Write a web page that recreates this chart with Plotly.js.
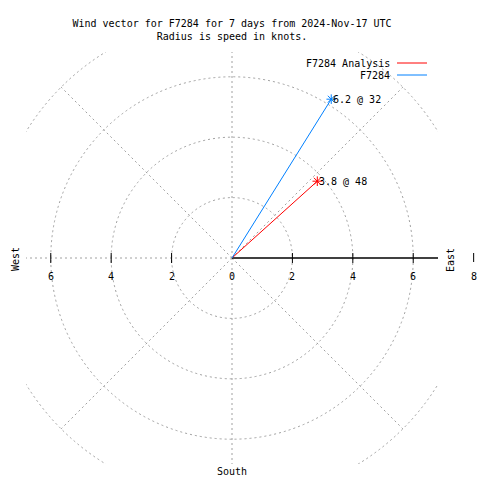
<!DOCTYPE html>
<html><head><meta charset="utf-8">
<script src="https://cdn.plot.ly/plotly-3.0.1.min.js"></script>
<style>html,body{margin:0;padding:0;background:#fff}</style>
</head><body><div id="chart" style="width:480px;height:480px"></div>
<script>
// ---- data ----
const seriesNames = ['F7284 Analysis', 'F7284'];
const speeds = [3.8, 6.2];          // knots
const directions = [48, 32];        // degrees clockwise from north
const seriesColors = ['#ff0000', '#0080ff'];
const circleRadii = [2, 4, 6, 8];
const spokeAngles = [0, 45, 135, 180, 225, 270, 315];
const tickVals = [-6, -4, -2, 2, 4, 6];
const tickLabelVals = [-6, -4, -2, 0, 2, 4, 6];
const tickLabelText = ['6', '4', '2', '0', '2', '4', '6'];
const outerTick = 8;
const titleLines = ['Wind vector for F7284 for 7 days from 2024-Nov-17 UTC', 'Radius is speed in knots.'];
const compass = [
  {text: 'West', px: 15, py: 259, angle: -90},
  {text: 'East', px: 450, py: 260, angle: -90},
  {text: 'South', px: 232, py: 471, angle: 0}
];

// ---- geometry ----
const W = 480, H = 480;
const M = {l: 26, r: 42, t: 52, b: 16};
const PW = W - M.l - M.r, PH = H - M.t - M.b;
const R = 6.82;
const FONT = '"DejaVu Sans Mono", "Liberation Mono", monospace';
const px2x = px => (px - M.l) / PW;
const py2y = py => (H - M.b - py) / PH;
const val2paperX = v => (v + R) / (2 * R);
const rad = d => d * Math.PI / 180;
const GRID = {color: '#a0a0a0', width: 1, dash: '2px,3px'};

const shapes = [];
circleRadii.forEach(r => shapes.push({type: 'circle', xref: 'x', yref: 'y',
  x0: -r, x1: r, y0: -r, y1: r, line: GRID, layer: 'below'}));
spokeAngles.forEach(a => shapes.push({type: 'line', xref: 'x', yref: 'y',
  x0: 0, y0: 0, x1: 8 * Math.sin(rad(a)), y1: 8 * Math.cos(rad(a)), line: GRID, layer: 'below'}));
// radial axis line (east)
shapes.push({type: 'line', xref: 'x', yref: 'y', x0: 0, y0: 0, x1: R, y1: 0,
  line: {color: '#000', width: 1.3}, layer: 'below'});
tickVals.forEach(v => shapes.push({type: 'line', xref: 'x', yref: 'y', ysizemode: 'pixel', yanchor: 0,
  x0: v, x1: v, y0: -5, y1: 5, line: {color: '#000', width: 1}}));
shapes.push({type: 'line', xref: 'paper', yref: 'paper', x0: val2paperX(outerTick), x1: val2paperX(outerTick),
  y0: py2y(253), y1: py2y(262), line: {color: '#000', width: 1}});

const annotations = [];
tickLabelVals.forEach((v, i) => annotations.push({xref: 'paper', yref: 'paper',
  x: val2paperX(v), y: py2y(276), text: tickLabelText[i], showarrow: false,
  xanchor: 'center', yanchor: 'middle', font: {family: FONT, size: 10, color: '#000'}}));
annotations.push({xref: 'paper', yref: 'paper', x: val2paperX(outerTick), y: py2y(276),
  text: String(outerTick), showarrow: false, xanchor: 'center', yanchor: 'middle',
  font: {family: FONT, size: 10, color: '#000'}});
compass.forEach(c => annotations.push({xref: 'paper', yref: 'paper', x: px2x(c.px), y: py2y(c.py),
  text: c.text, textangle: c.angle, showarrow: false, xanchor: 'center', yanchor: 'middle',
  font: {family: FONT, size: 10, color: '#000'}}));

const traces = [];
seriesNames.forEach((name, i) => {
  const ex = speeds[i] * Math.sin(rad(directions[i]));
  const ey = speeds[i] * Math.cos(rad(directions[i]));
  traces.push({type: 'scatter', mode: 'lines', name: name, x: [0, ex], y: [0, ey],
    line: {color: seriesColors[i], width: 1}, showlegend: false, hoverinfo: 'skip'});
  traces.push({type: 'scatter', mode: 'markers', x: [ex], y: [ey], showlegend: false,
    marker: {symbol: 'asterisk-open', size: 8, color: seriesColors[i], line: {color: seriesColors[i], width: 1}}});
  annotations.push({xref: 'x', yref: 'y', x: ex, y: ey, xanchor: 'left', yanchor: 'middle',
    text: speeds[i].toFixed(1) + ' @ ' + directions[i], showarrow: false, xshift: 0,
    font: {family: FONT, size: 10, color: '#000'}});
  // manual legend entry (text left of the line sample)
  const ly = 63 + 12 * i;
  annotations.push({xref: 'paper', yref: 'paper', x: px2x(392), y: py2y(ly + 1), xanchor: 'right', yanchor: 'middle',
    text: name, showarrow: false, font: {family: FONT, size: 10, color: '#000'}});
  shapes.push({type: 'line', xref: 'paper', yref: 'paper', x0: px2x(397), x1: px2x(427),
    y0: py2y(ly), y1: py2y(ly), line: {color: seriesColors[i], width: 1}});
});

const layout = {
  width: W, height: H, margin: M, paper_bgcolor: '#fff', plot_bgcolor: '#fff',
  showlegend: false,
  title: {text: titleLines.join('<br>'), x: 0.5, xref: 'paper', xanchor: 'center',
    y: 1 - 27 / H, yref: 'container', yanchor: 'top', font: {family: FONT, size: 10, color: '#000'}},
  xaxis: {range: [-R, R], visible: false, fixedrange: true},
  yaxis: {range: [-R, R], visible: false, fixedrange: true},
  shapes: shapes, annotations: annotations
};
Plotly.newPlot('chart', traces, layout, {displayModeBar: false, staticPlot: true});
</script></body></html>
